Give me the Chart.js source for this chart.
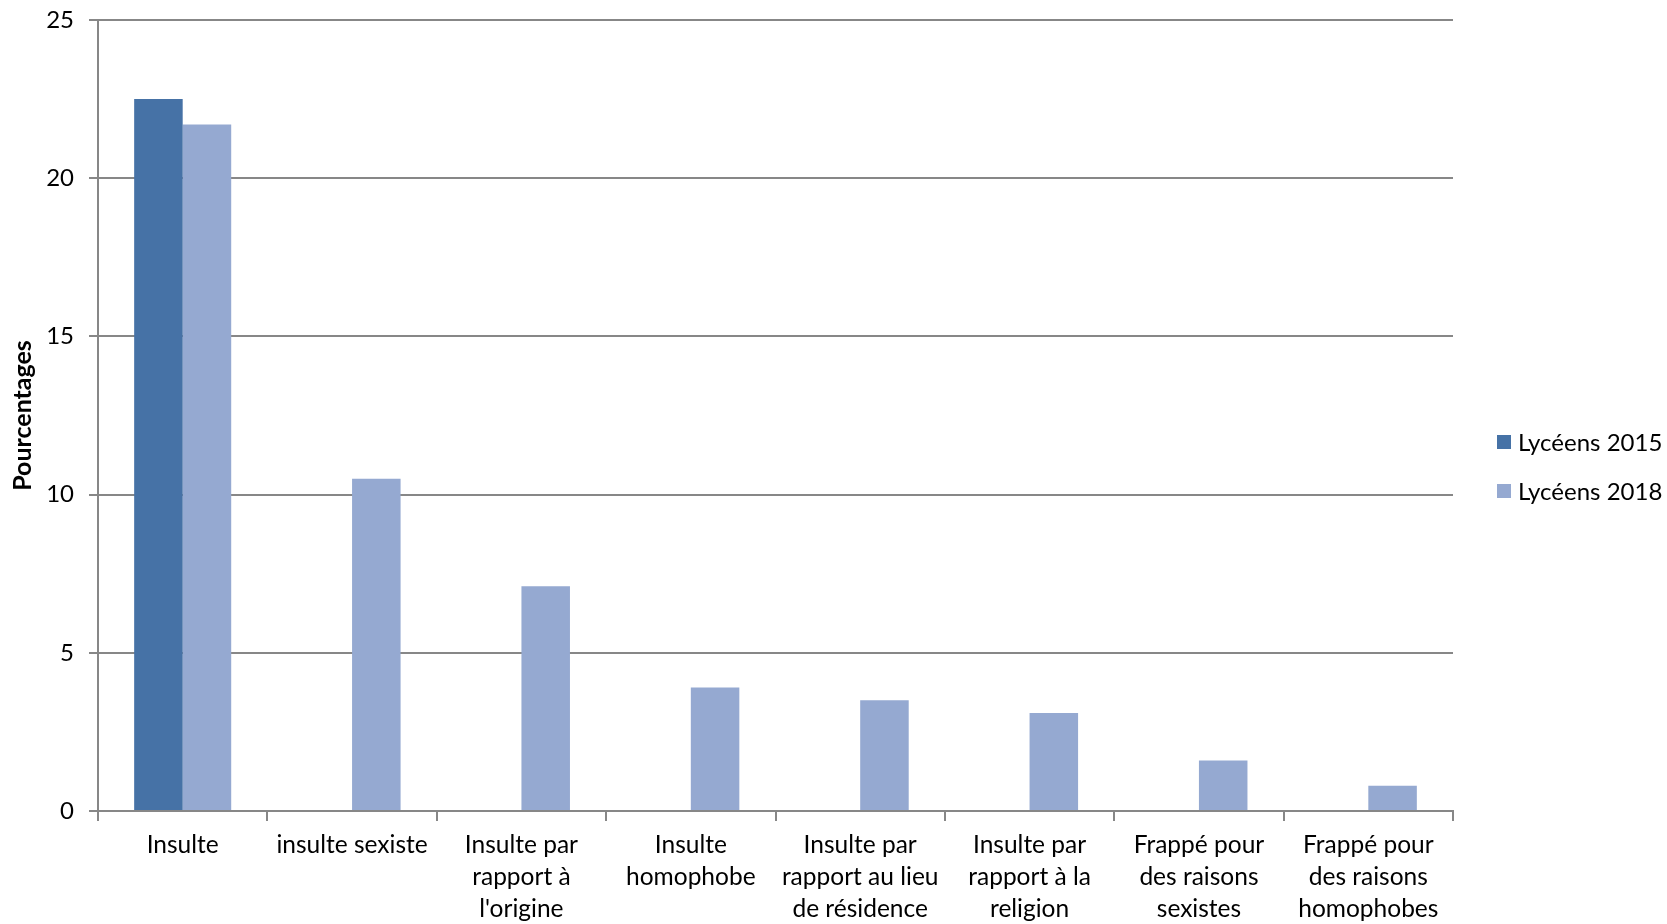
<!DOCTYPE html>
<html>
<head>
<meta charset="utf-8">
<script src="https://cdn.jsdelivr.net/npm/chart.js@4/dist/chart.umd.min.js"></script>
<style>
  html, body { margin: 0; padding: 0; background: #fff; }
  #wrap { width: 1667px; height: 924px; }
</style>
</head>
<body>
<div id="wrap"><canvas id="chart" width="1667" height="924"></canvas></div>
<script>
// categories (multi-line labels as in the original)
const categories = [
    'Insulte',
    'insulte sexiste',
    ['Insulte par', 'rapport à', "l'origine"],
    ['Insulte', 'homophobe'],
    ['Insulte par', 'rapport au lieu', 'de résidence'],
    ['Insulte par', 'rapport à la', 'religion'],
    ['Frappé pour', 'des raisons', 'sexistes'],
    ['Frappé pour', 'des raisons', 'homophobes']
];

// series values (percentages)
const lyceens2015 = [22.5, null, null, null, null, null, null, null];
const lyceens2018 = [21.7, 10.5, 7.1, 3.9, 3.5, 3.1, 1.6, 0.8];

const seriesNames = ['Lycéens 2015', 'Lycéens 2018'];
const seriesColors = ['#4672A6', '#95A9D1'];

// y axis ticks
const yMin = 0;
const yMax = 25;
const yStep = 5;

const FONT = 'Lato, "Open Sans", sans-serif';
const gridGray = '#878787';

// legend drawn on the right, like the original
const sideLegend = {
    id: 'sideLegend',
    afterDraw(chart) {
        const ctx = chart.ctx;
        ctx.save();
        ctx.font = '24px ' + FONT;
        ctx.textBaseline = 'middle';
        ctx.textAlign = 'left';
        chart.data.datasets.forEach((ds, i) => {
            const y = 442 + i * 49;
            ctx.fillStyle = ds.backgroundColor;
            ctx.fillRect(1497, y - 7, 14, 14);
            ctx.fillStyle = '#000';
            ctx.fillText(ds.label, 1518, y + 1);
        });
        ctx.restore();
    }
};

const ctx = document.getElementById('chart').getContext('2d');
new Chart(ctx, {
    type: 'bar',
    data: {
        labels: categories,
        datasets: [
            { label: seriesNames[0], data: lyceens2015, backgroundColor: seriesColors[0] },
            { label: seriesNames[1], data: lyceens2018, backgroundColor: seriesColors[1] }
        ]
    },
    options: {
        responsive: false,
        animation: false,
        layout: { padding: { top: 20, right: 214, left: 0, bottom: 0 } },
        datasets: {
            bar: { categoryPercentage: 0.573, barPercentage: 1.0 }
        },
        plugins: {
            legend: { display: false },
            tooltip: { enabled: false }
        },
        scales: {
            x: {
                offset: true,
                grid: {
                    offset: true,
                    drawOnChartArea: false,
                    drawTicks: true,
                    tickLength: 10,
                    color: gridGray,
                    lineWidth: 2
                },
                border: { color: gridGray, width: 2 },
                ticks: {
                    color: '#000',
                    font: { family: FONT, size: 24.5, lineHeight: 1.3 },
                    padding: 8,
                    maxRotation: 0,
                    autoSkip: false
                },
                afterFit(axis) {
                    axis.height = 113;
                    axis.paddingLeft = 0;
                    axis.paddingRight = 0;
                }
            },
            y: {
                min: yMin,
                max: yMax,
                ticks: {
                    stepSize: yStep,
                    color: '#000',
                    font: { family: FONT, size: 24 },
                    padding: 15
                },
                grid: {
                    color: gridGray,
                    lineWidth: 2,
                    tickLength: 9
                },
                border: { color: gridGray, width: 2 },
                title: {
                    display: true,
                    text: 'Pourcentages',
                    color: '#000',
                    font: { family: FONT, size: 25, weight: 'bold', lineHeight: 1.2 },
                    padding: { top: 8, bottom: 0 }
                },
                afterFit(axis) {
                    axis.width = 98;
                    axis.paddingTop = 0;
                    axis.paddingBottom = 0;
                }
            }
        }
    },
    plugins: [sideLegend]
});
</script>
</body>
</html>
